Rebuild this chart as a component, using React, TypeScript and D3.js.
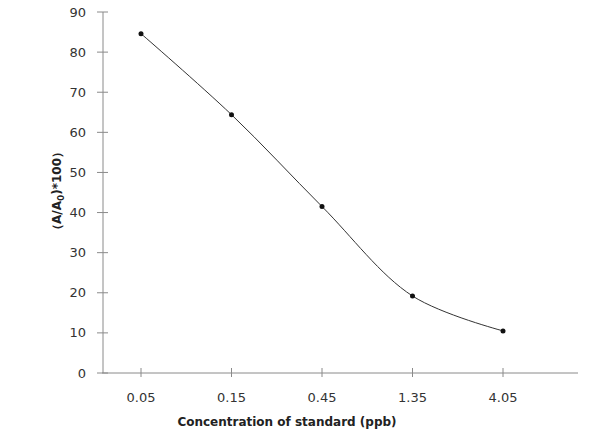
import React from "react";
import * as d3 from "d3";

const categories = ["0.05", "0.15", "0.45", "1.35", "4.05"];
const values = [84.6, 64.4, 41.5, 19.2, 10.5];
const yTicks = [0, 10, 20, 30, 40, 50, 60, 70, 80, 90];

export default function App() {
  const W = 608, H = 434;
  const x = d3.scalePoint<string>().domain(categories).range([141, 503]);
  const y = d3.scaleLinear().domain([0, 90]).range([373, 12]);
  const axisColor = "#8a8a8a";
  const font = "Verdana, 'DejaVu Sans', sans-serif";
  const line = d3
    .line<number>()
    .x((_, i) => x(categories[i]) as number)
    .y((d) => y(d))
    .curve(d3.curveCatmullRom.alpha(0.5));
  return (
    <svg width={W} height={H} style={{ position: "absolute", left: 0, top: 0, background: "#fff" }}>
      {/* y axis */}
      <line x1={103} x2={103} y1={y(90)} y2={y(0)} stroke={axisColor} strokeWidth={1} />
      {yTicks.map((t) => (
        <g key={t}>
          <line x1={97} x2={108} y1={y(t)} y2={y(t)} stroke={axisColor} />
          <text x={86} y={y(t)} dy="0.35em" textAnchor="end" fontFamily={font} fontSize={13} fill="#333">
            {t}
          </text>
        </g>
      ))}
      {/* x axis */}
      <line x1={102} x2={578} y1={y(0)} y2={y(0)} stroke={axisColor} />
      {categories.map((c) => (
        <g key={c}>
          <line x1={x(c)} x2={x(c)} y1={y(0) - 5} y2={y(0) + 4} stroke={axisColor} />
          <text x={x(c)} y={402} textAnchor="middle" fontFamily={font} fontSize={13} fill="#333">
            {c}
          </text>
        </g>
      ))}
      <path d={line(values) || ""} fill="none" stroke="#333" strokeWidth={1} />
      {values.map((v, i) => (
        <circle key={i} cx={x(categories[i])} cy={y(v)} r={2.5} fill="#111" />
      ))}
      <text x={287} y={426} textAnchor="middle" fontFamily={font} fontSize={12} fontWeight="bold" fill="#222">
        Concentration of standard (ppb)
      </text>
      <text
        transform="translate(61,191) rotate(-90)"
        textAnchor="middle"
        fontFamily={font}
        fontSize={12}
        fontWeight="bold"
        fill="#222"
      >
        （A/A<tspan fontSize={9} dy={3}>0</tspan>
        <tspan dy={-3}>)*100）</tspan>
      </text>
    </svg>
  );
}
